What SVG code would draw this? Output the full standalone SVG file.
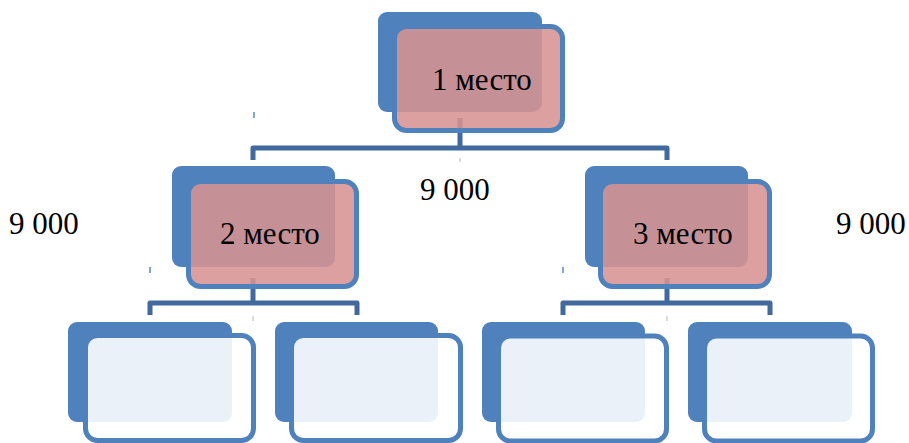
<svg xmlns="http://www.w3.org/2000/svg" width="909" height="443" viewBox="0 0 909 443">
<style>
.back{fill:#4F81BD}
.front{stroke:#4F81BD;stroke-width:5}
.pink{fill:rgb(214,147,146);fill-opacity:0.88}
.pale{fill:#FFFFFF;fill-opacity:0.885}
.conn{fill:none;stroke:#41699D;stroke-width:5;stroke-linejoin:round}
.tick{stroke:#7FA6D6;stroke-width:2}
.ftick{stroke:#C8D0DA;stroke-width:1.5}
text{font-family:"Liberation Serif","Times New Roman",serif;font-size:31px;fill:#000}
</style>
<rect width="909" height="443" fill="#FFFFFF"/>
<g id="connectors">
<path class="conn" d="M460,118 V148 M253,160 V148 H667 V160"/>
<path class="conn" d="M253,278 V303 M150,315 V303 H357 V315"/>
<path class="conn" d="M667,278 V303 M563,315 V303 H770 V315"/>
<line class="tick" x1="254" y1="112" x2="254" y2="118"/>
<line class="tick" x1="150" y1="267" x2="150" y2="273"/>
<line class="tick" x1="563" y1="267" x2="563" y2="273"/>
<line class="ftick" x1="460" y1="158" x2="460" y2="162"/>
<line class="ftick" x1="253" y1="316" x2="253" y2="321"/>
<line class="ftick" x1="667" y1="316" x2="667" y2="321"/>
</g>
<g id="node-1">
<rect class="back" x="378" y="12" width="164" height="100" rx="9"/>
<rect class="front pink" x="394.5" y="26.5" width="168" height="104" rx="12"/>
<text x="432" y="90">1 место</text>
</g>
<g id="node-2">
<rect class="back" x="172" y="166" width="163" height="101" rx="9"/>
<rect class="front pink" x="188.5" y="181.5" width="168" height="105" rx="12"/>
<text x="220" y="244">2 место</text>
</g>
<g id="node-3">
<rect class="back" x="585" y="166" width="163" height="101" rx="9"/>
<rect class="front pink" x="600.5" y="181.5" width="169" height="105" rx="12"/>
<text x="633" y="244">3 место</text>
</g>
<g id="node-4">
<rect class="back" x="68" y="322" width="164" height="100" rx="9"/>
<rect class="front pale" x="85.5" y="335.5" width="168" height="105" rx="12"/>
</g>
<g id="node-5">
<rect class="back" x="275" y="322" width="163" height="100" rx="9"/>
<rect class="front pale" x="291.5" y="335.5" width="169" height="105" rx="12"/>
</g>
<g id="node-6">
<rect class="back" x="482" y="322" width="163" height="100" rx="9"/>
<rect class="front pale" x="498.5" y="336" width="168" height="105" rx="12"/>
</g>
<g id="node-7">
<rect class="back" x="688" y="322" width="164" height="100" rx="9"/>
<rect class="front pale" x="704.5" y="336" width="168" height="105" rx="12"/>
</g>
<g id="labels">
<text x="9" y="234">9 000</text>
<text x="420" y="200">9 000</text>
<text x="836" y="234">9 000</text>
</g>
</svg>
